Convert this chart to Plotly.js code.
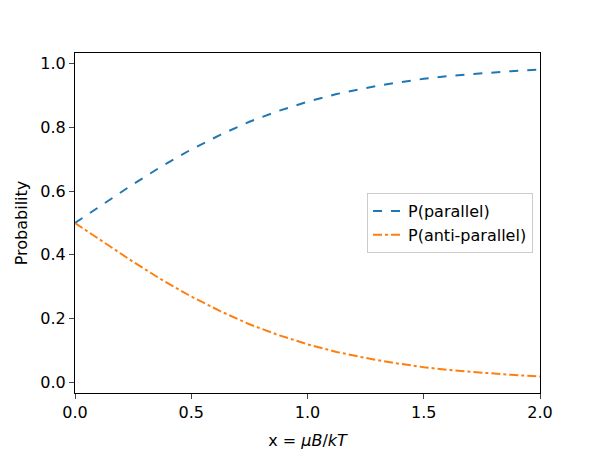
<!DOCTYPE html>
<html><head><script src="https://cdn.plot.ly/plotly-3.0.0.min.js"></script></head>
<body style="margin:0"><div id="plot" style="width:600px;height:450px"></div>
<script>
// values
const xs = [0, 0.125, 0.25, 0.375, 0.5, 0.625, 0.75, 0.875, 1.0, 1.125, 1.25, 1.375, 1.5, 1.625, 1.75, 1.875, 2.0];
const pPar = [0.5, 0.562, 0.622, 0.679, 0.731, 0.777, 0.818, 0.852, 0.881, 0.905, 0.924, 0.940, 0.953, 0.963, 0.971, 0.977, 0.982];
const pAnti = [0.5, 0.438, 0.378, 0.321, 0.269, 0.223, 0.182, 0.148, 0.119, 0.095, 0.076, 0.060, 0.047, 0.037, 0.029, 0.023, 0.018];

const data = [
  {x: xs, y: pPar, mode: "lines", name: "P(parallel)", line: {color: "#1f77b4", dash: "dash", width: 2}},
  {x: xs, y: pAnti, mode: "lines", name: "P(anti-parallel)", line: {color: "#ff7f0e", dash: "dashdot", width: 2}}
];

const layout = {
  width: 600, height: 450,
  margin: {l: 75, r: 60, t: 53, b: 57},
  paper_bgcolor: "white", plot_bgcolor: "white",
  font: {family: "DejaVu Sans", size: 16, color: "black"},
  showlegend: true,
  legend: {x: 0.985, y: 0.5, xanchor: "right", yanchor: "middle", bordercolor: "#ccc", borderwidth: 1,
           bgcolor: "rgba(255,255,255,0.8)", font: {size: 16}},
  xaxis: {range: [0, 2], dtick: 0.5, tickformat: ".1f", showgrid: false, zeroline: false, showline: true, mirror: true, linecolor: "black", ticks: "outside", ticklen: 5,
          tickfont: {size: 16}, title: {text: "x = <i>μB</i>/<i>kT</i>", standoff: 16, font: {size: 16}}},
  yaxis: {range: [-0.034, 1.034], dtick: 0.2, tickformat: ".1f", showgrid: false, zeroline: false, showline: true, mirror: true, linecolor: "black", ticks: "outside", ticklen: 5,
          tickfont: {size: 16}, title: {text: "Probability", standoff: 8, font: {size: 16}}}
};
Plotly.newPlot("plot", data, layout, {displayModeBar: false});
</script></body></html>
